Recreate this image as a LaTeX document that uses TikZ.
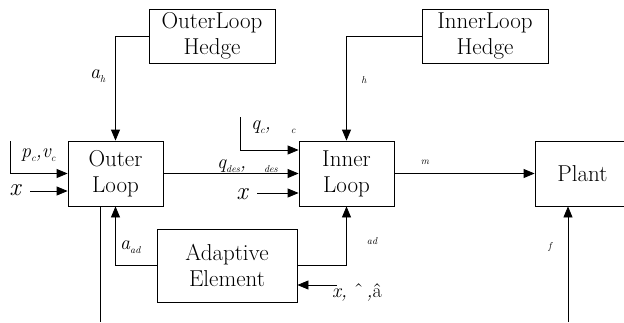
\documentclass[tikz,border=0pt]{standalone}
\usepackage{fontspec}
\usetikzlibrary{arrows.meta}
\newcommand\lsub[1]{\raisebox{-4pt}{\fontsize{10}{10}\selectfont\itshape #1}}
\begin{document}
\begin{tikzpicture}[x=1pt,y=-1pt,
  blk/.style={draw, line width=0.8pt, inner sep=0pt, align=center,
              font=\fontsize{23}{26}\selectfont},
  conn/.style={line width=0.8pt, -{Triangle[length=11pt,width=9pt]}},
  wire/.style={line width=0.8pt},
  lbl/.style={inner sep=0pt, font=\fontsize{20}{20}\selectfont\itshape},
  bigx/.style={inner sep=0pt, font=\fontsize{25}{25}\selectfont\itshape},
  tiny/.style={inner sep=0pt, font=\fontsize{10}{10}\selectfont\itshape}]
\useasboundingbox (0,0) rectangle (624,322);
\clip (0,0) rectangle (624,322);
% blocks
\node[blk, minimum width=126pt, minimum height=54pt] (olh) at (212,36) {OuterLoop\\Hedge};
\node[blk, minimum width=126pt, minimum height=54pt] (ilh) at (485,36) {InnerLoop\\Hedge};
\node[blk, minimum width=95pt, minimum height=65pt] (outer) at (115.5,173.5) {Outer\\Loop};
\node[blk, minimum width=95pt, minimum height=65pt] (inner) at (346.5,173.5) {Inner\\Loop};
\node[blk, minimum width=95pt, minimum height=65pt] (plant) at (582.5,173.5) {Plant};
\node[blk, minimum width=140pt, minimum height=73pt] (ae) at (227,265.5) {Adaptive\\Element};
% free ends
\coordinate (pin) at (10,141);
\coordinate (xo) at (30,191);
\coordinate (qin) at (240,117);
\coordinate (xi) at (257,193);
\coordinate (aein) at (337,285);
\coordinate (ob) at (100,322);
\coordinate (pf) at (568,322);
% connectors
\draw[conn] (olh.west) -| (outer.north);
\draw[conn] (ilh.west) -| (inner.north);
\draw[conn] (pin) |- (outer.west);
\draw[conn] (xo) -- (xo -| outer.west);
\draw[conn] (outer.east) -- (inner.west);
\draw[conn] (qin) |- (inner.west |- 0,150);
\draw[conn] (xi) -- (xi -| inner.west);
\draw[conn] (inner.east) -- (plant.west);
\draw[conn] (ae.west) -| (outer.south);
\draw[conn] (ae.east) -| (inner.south);
\draw[conn] (aein) -- (aein -| ae.east);
\draw[wire] (ob |- outer.south) -- (ob);
\draw[conn] (pf) -- (pf |- plant.south);
% labels
\node[lbl, anchor=base west] (lah) at (90,78) {a\lsub{h}};
\node[tiny] (lh) at (364,80) {h};
\node[lbl, anchor=base west] (lpv) at (21,157) {p\lsub{c},v\lsub{c}};
\node[bigx] (lxo) at (15,190) {x};
\node[lbl, anchor=base west] (lqc) at (251,129) {q\lsub{c}, \hspace{13pt}\lsub{c}};
\node[lbl, anchor=base west] (lqd) at (217,168) {q\lsub{des}, \hspace{11pt}\lsub{des}};
\node[bigx] (lxi) at (242,194) {x};
\node[tiny] (lm) at (425,162) {m};
\node[lbl, anchor=base west] (laad) at (120,249) {a\lsub{ad}};
\node[tiny] (lad) at (372,241) {ad};
\node[tiny] (lf) at (550,247) {f};
\node[lbl, anchor=base west] (lxa) at (332,297) {x, \textup{ˆ}\,,\textup{â}};
\end{tikzpicture}
\end{document}
